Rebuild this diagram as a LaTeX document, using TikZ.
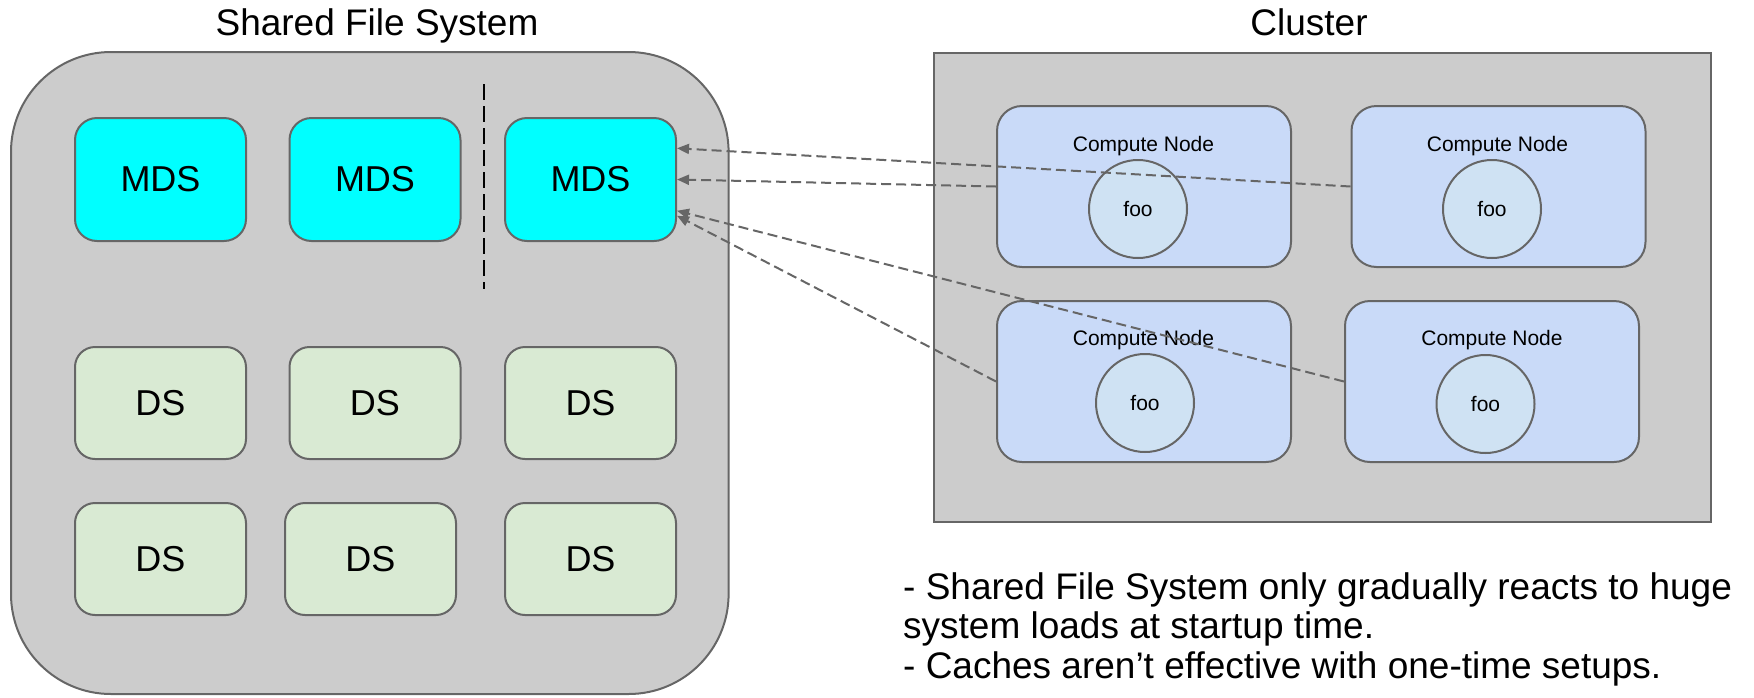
\documentclass[tikz,border=0pt]{standalone}
\usepackage{fontspec}
\setmainfont{Liberation Sans}
\usetikzlibrary{arrows.meta,calc}
\definecolor{stroke}{HTML}{666666}
\definecolor{panel}{HTML}{CCCCCC}
\definecolor{mdsfill}{HTML}{00FFFF}
\definecolor{dsfill}{HTML}{D9EAD3}
\definecolor{cnfill}{HTML}{C9DAF8}
\definecolor{foofill}{HTML}{CFE2F3}
\tikzset{
  panelbox/.style={draw=stroke, fill=panel, line width=2pt, inner sep=0pt},
  mdsbox/.style={draw=stroke, fill=mdsfill, line width=2pt, rounded corners=22pt,
    minimum width=171pt, minimum height=123pt, font=\fontsize{36}{40}\selectfont},
  dsbox/.style={draw=stroke, fill=dsfill, line width=2pt, rounded corners=20pt,
    minimum width=171pt, minimum height=112pt, font=\fontsize{36}{40}\selectfont},
  cnbox/.style={draw=stroke, fill=cnfill, line width=2pt, rounded corners=25pt,
    minimum width=294pt, minimum height=161pt},
  cnlabel/.style={font=\fontsize{21}{24}\selectfont, inner sep=0pt},
  foocirc/.style={draw=stroke, fill=foofill, line width=2pt, circle, minimum size=98pt,
    inner sep=0pt, font=\fontsize{21}{24}\selectfont},
  titletext/.style={font=\fontsize{37}{40}\selectfont, anchor=base, inner sep=0pt},
  link/.style={draw=stroke, line width=2pt, dash pattern=on 10pt off 5pt,
    -{Triangle[length=12pt,width=10pt]}},
}
\begin{document}
\begin{tikzpicture}[x=1pt,y=-1pt]
\useasboundingbox (0,0) rectangle (1754,697);
% titles
\node[titletext] (sfstitle) at (377,35) {Shared File System};
\node[titletext] (clustertitle) at (1309,35) {Cluster};
% shared file system panel
\node[panelbox, rounded corners=100pt, minimum width=717.6pt, minimum height=642pt] (sfs) at (369.8,373) {};
\draw[stroke, line width=2pt, dash pattern=on 16pt off 6pt] (484,84) coordinate (sepTop) -- (484,289) coordinate (sepBot);
\node[mdsbox] (mds1) at (160.5,179.5) {MDS};
\node[mdsbox] (mds2) at (375,179.5) {MDS};
\node[mdsbox] (mds3) at (590.5,179.5) {MDS};
\node[dsbox] (ds1) at (160.5,403) {DS};
\node[dsbox] (ds2) at (375,403) {DS};
\node[dsbox] (ds3) at (590.5,403) {DS};
\node[dsbox] (ds4) at (160.5,559) {DS};
\node[dsbox] (ds5) at (370.5,559) {DS};
\node[dsbox] (ds6) at (590.5,559) {DS};
% cluster panel
\node[panelbox, minimum width=777pt, minimum height=469.5pt] (cluster) at (1322.5,287.25) {};
\node[cnbox] (cn1) at (1144,186.5) {};
\node[cnbox] (cn2) at (1498.5,186.5) {};
\node[cnbox] (cn3) at (1144,381.5) {};
\node[cnbox] (cn4) at (1492,381.5) {};
\node[cnlabel] (cn1l) at (1143.5,146) {Compute Node};
\node[cnlabel] (cn2l) at (1497.5,146) {Compute Node};
\node[cnlabel] (cn3l) at (1143.5,340) {Compute Node};
\node[cnlabel] (cn4l) at (1492,340) {Compute Node};
\node[foocirc] (foo1) at (1138,209) {foo};
\node[foocirc] (foo2) at (1492,209) {foo};
\node[foocirc] (foo3) at (1145,403) {foo};
\node[foocirc] (foo4) at (1485.5,404) {foo};
% connectors
\draw[link] (cn2.west) -- ($(mds3.north east)!0.25!(mds3.south east)$);
\draw[link] (cn1.west) -- (mds3.east);
\draw[link] (cn4.west) -- ($(mds3.north east)!0.75!(mds3.south east)$);
\draw[link] (cn3.west) -- ($(mds3.north east)!0.79!(mds3.south east)$);
% notes
\node[anchor=base west, align=left, inner sep=0pt, font=\fontsize{37}{39.5}\selectfont] (notes) at (903,678.3)
  {- Shared File System only gradually reacts to huge\\system loads at startup time.\\- Caches aren’t effective with one-time setups.};
\end{tikzpicture}
\end{document}
